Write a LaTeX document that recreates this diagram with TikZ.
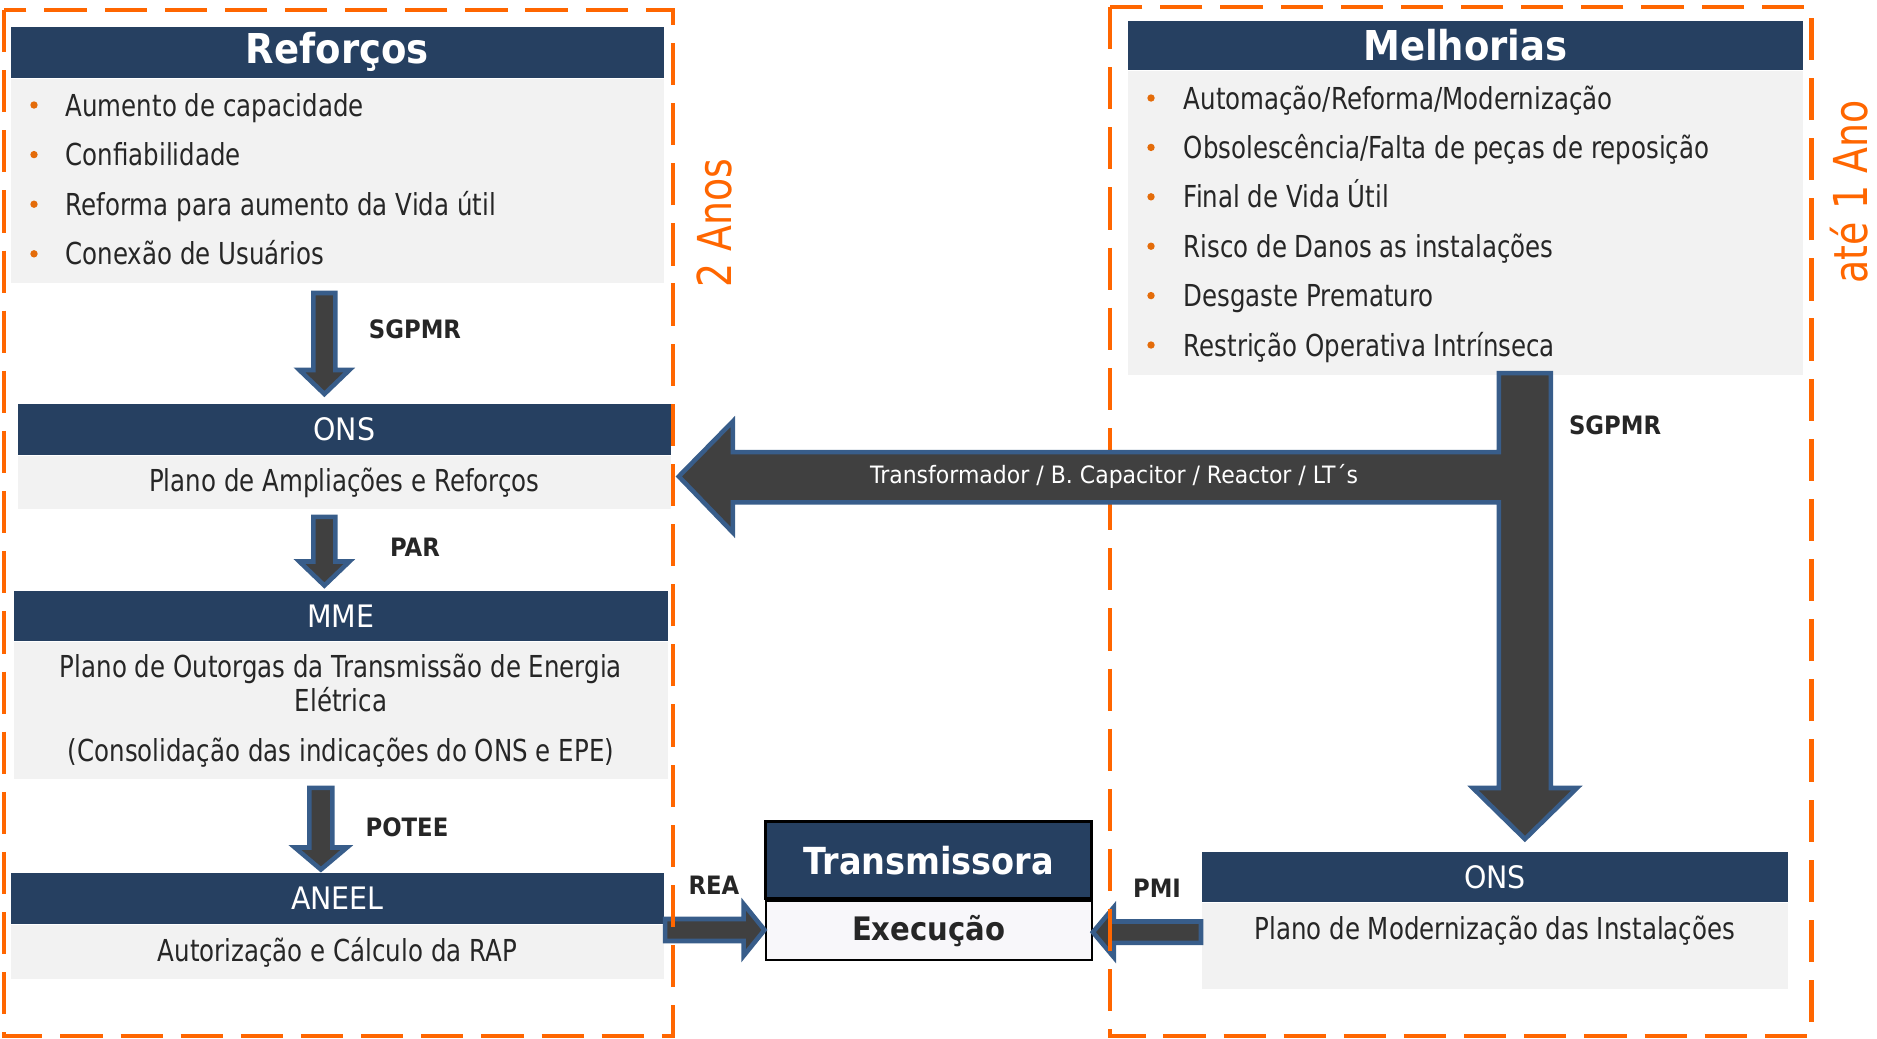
\documentclass[tikz,border=0pt]{standalone}
\usepackage{fontspec}
\setmainfont{DejaVu Sans}[FakeStretch=0.81]
\newfontfamily\hdrfont{DejaVu Sans}[FakeStretch=0.92]
\newfontfamily\boldfont{DejaVu Sans}[FakeStretch=0.9]
\usetikzlibrary{positioning,calc}

\definecolor{navy}{RGB}{38,64,97}
\definecolor{panel}{RGB}{242,242,242}
\definecolor{arrowfill}{RGB}{64,64,64}
\definecolor{arrowline}{RGB}{56,93,138}
\definecolor{frameor}{RGB}{255,102,0}
\definecolor{dotor}{RGB}{228,108,10}
\definecolor{txt}{RGB}{38,38,38}

\tikzset{
	hdrbox/.style={fill=navy, text=white, inner sep=0pt, anchor=north west, font=\hdrfont\fontsize{8.8}{10}\selectfont},
	titlebox/.style={hdrbox, font=\boldfont\bfseries\fontsize{11.7}{13}\selectfont},
	panelbox/.style={fill=panel, text=txt, inner sep=0pt, font=\fontsize{8.6}{10.3}\selectfont},
	itemtxt/.style={anchor=base west, text=txt, inner sep=0pt, font=\fontsize{8.6}{10.3}\selectfont},
	lbl/.style={text=txt, inner sep=0pt, font=\boldfont\bfseries\fontsize{7.2}{8}\selectfont},
	blockarrow/.style={fill=arrowfill, draw=arrowline, line width=1.3pt},
	orframe/.style={draw=frameor, line width=1.4pt, dash pattern=on 12pt off 5.1pt},
	yearlbl/.style={text=frameor, rotate=90, inner sep=0pt, font=\fontsize{13.3}{15}\selectfont}
}

% block arrows: start, tip, shaft half width, head half width, head length
\newcommand\vblock[5]{\draw[blockarrow] (#2) -- ++(-#4,-#5) -- ++(#4-#3,0) -- ($(#1)+(-#3,0)$) -- ($(#1)+(#3,0)$) -- ($(#2)+(#3,-#5)$) -- ++(#4-#3,0) -- cycle;}
\newcommand\hblock[5]{\draw[blockarrow] (#2) -- ++(#5,-#4) -- ++(0,#4-#3) -- ($(#1)+(0,-#3)$) -- ($(#1)+(0,#3)$) -- ($(#2)+(#5,#3)$) -- ++(0,#4-#3) -- cycle;}

\begin{document}
\begin{tikzpicture}[x=0.01cm, y=-0.01cm]
	\useasboundingbox (0,0) rectangle (1877,1038);

	% Reforcos column
	\node[titlebox, minimum width=6.53cm, minimum height=0.51cm] (refhead) at (10,26) {Reforços};
	\node[panelbox, below=0pt of refhead, minimum width=6.53cm, minimum height=2.04cm] (refbody) {};
	\foreach \t [count=\i from 0] in {Aumento de capacidade, Confiabilidade, Reforma para aumento da Vida útil, Conexão de Usuários}{
		\fill[dotor] (34,105+49.6*\i) circle[radius=1.05pt];
		\node[itemtxt] (ref\i) at (65,116+49.6*\i) {\t};
	}

	\node[hdrbox, minimum width=6.53cm, minimum height=0.51cm] (onslhead) at (17,403) {ONS};
	\node[panelbox, below=0pt of onslhead, minimum width=6.53cm, minimum height=0.53cm] (onslbody) {Plano de Ampliações e Reforços};

	\node[hdrbox, minimum width=6.54cm, minimum height=0.50cm] (mmehead) at (13,590) {MME};
	\node[panelbox, below=0pt of mmehead, minimum width=6.54cm, minimum height=1.37cm, align=center, font=\fontsize{8.6}{9.7}\selectfont] (mmebody) {Plano de Outorgas da Transmissão de Energia\\Elétrica\\[4.5pt](Consolidação das indicações do ONS e EPE)};

	\node[hdrbox, minimum width=6.53cm, minimum height=0.51cm] (aneelhead) at (10,872) {ANEEL};
	\node[panelbox, below=0pt of aneelhead, minimum width=6.53cm, minimum height=0.54cm] (aneelbody) {Autorização e Cálculo da RAP};

	% Melhorias column
	\node[titlebox, minimum width=6.75cm, minimum height=0.49cm] (melhead) at (1127,20) {Melhorias};
	\node[panelbox, below=0pt of melhead, minimum width=6.75cm, minimum height=3.04cm] (melbody) {};
	\foreach \t [count=\i from 0] in {Automação/Reforma/Modernização, Obsolescência/Falta de peças de reposição, Final de Vida Útil, Risco de Danos as instalações, Desgaste Prematuro, Restrição Operativa Intrínseca}{
		\fill[dotor] (1151,98+49.4*\i) circle[radius=1.05pt];
		\node[itemtxt] (mel\i) at (1183,109+49.4*\i) {\t};
	}

	\node[hdrbox, minimum width=5.86cm, minimum height=0.50cm] (onsrhead) at (1201,851) {ONS};
	\node[panelbox, below=0pt of onsrhead, minimum width=5.86cm, minimum height=0.86cm] (onsrbody) {};
	\node[panelbox, fill=none] (onsrtxt) at ($(onsrbody.north)+(0,28)$) {Plano de Modernização das Instalações};

	% Transmissora
	\node[hdrbox, draw=black, line width=0.9pt, minimum width=3.26cm, minimum height=0.77cm, font=\boldfont\bfseries\fontsize{10.6}{12}\selectfont] (trhead) at (764,820) {Transmissora};
	\node[panelbox, below=0pt of trhead, fill={rgb,255:red,248;green,247;blue,250}, draw=black, line width=0.6pt, minimum width=3.26cm, minimum height=0.59cm, font=\boldfont\bfseries\fontsize{9.2}{11}\selectfont] (trbody) {Execução};

	% arrows
	\coordinate (sgA) at ($(refbody.south)+(-13,9)$);
	\coordinate (sgB) at ($(sgA |- onslhead.north)+(0,-9)$);
	\vblock{sgA}{sgB}{11}{25}{24}
	\coordinate (parA) at ($(onslbody.south)+(-20,7)$);
	\coordinate (parB) at ($(parA |- mmehead.north)+(0,-4.5)$);
	\vblock{parA}{parB}{11}{25}{24}
	\coordinate (potA) at ($(mmebody.south)+(-20,8)$);
	\coordinate (potB) at ($(potA |- aneelhead.north)+(0,-2.5)$);
	\vblock{potA}{potB}{11.5}{26}{22}
	\coordinate (reaA) at ($(aneelhead.south east)+(0.3,5.5)$);
	\coordinate (reaB) at (trbody.west |- reaA);
	\hblock{reaA}{reaB}{11}{26}{-21}
	\coordinate (pmiA) at ($(onsrbody.west)+(0,-14)$);
	\coordinate (pmiB) at (trbody.east |- pmiA);
	\hblock{pmiA}{pmiB}{10.7}{25}{21}

	% frames
	\draw[orframe] (4,10) rectangle (673,1036);
	\draw[orframe] (1110,7) rectangle (1811,1036);

	% big arrow
	\coordinate (bigtop) at ($(melbody.south)+(59.5,-3)$);
	\coordinate (bigtip) at ($(bigtop |- onsrhead.north)+(0,-12)$);
	\coordinate (bigleft) at ($(onslbody.north east)+(7,21)$);
	\draw[blockarrow] (bigleft) -- ++(54,-55) |- ($(bigtop)+(-26,79)$) -- ($(bigtop)+(-26,0)$) -- ($(bigtop)+(26,0)$)
		-- ($(bigtip)+(26,-51)$) -- ++(26,0) -- (bigtip) -- ++(-52,-51) -- ++(26,0) |- ($(bigleft)+(54,26)$) -- ++(0,30) -- cycle;
	\node[text=white, inner sep=0pt, font=\hdrfont\fontsize{6.8}{8}\selectfont] (bigtxt) at (1114,476) {Transformador / B. Capacitor / Reactor / LT´s};

	% labels
	\node[lbl] (sglbl) at (415,329) {SGPMR};
	\node[lbl] (parlbl) at (415,547) {PAR};
	\node[lbl] (potlbl) at (407,827) {POTEE};
	\node[lbl] (realbl) at (714,885) {REA};
	\node[lbl] (pmilbl) at (1157,888) {PMI};
	\node[lbl] (sgrlbl) at (1615,425) {SGPMR};
	\node[yearlbl] (anos) at (714,223) {2 Anos};
	\node[yearlbl] (ano) at (1849,192) {até 1 Ano};
\end{tikzpicture}
\end{document}
